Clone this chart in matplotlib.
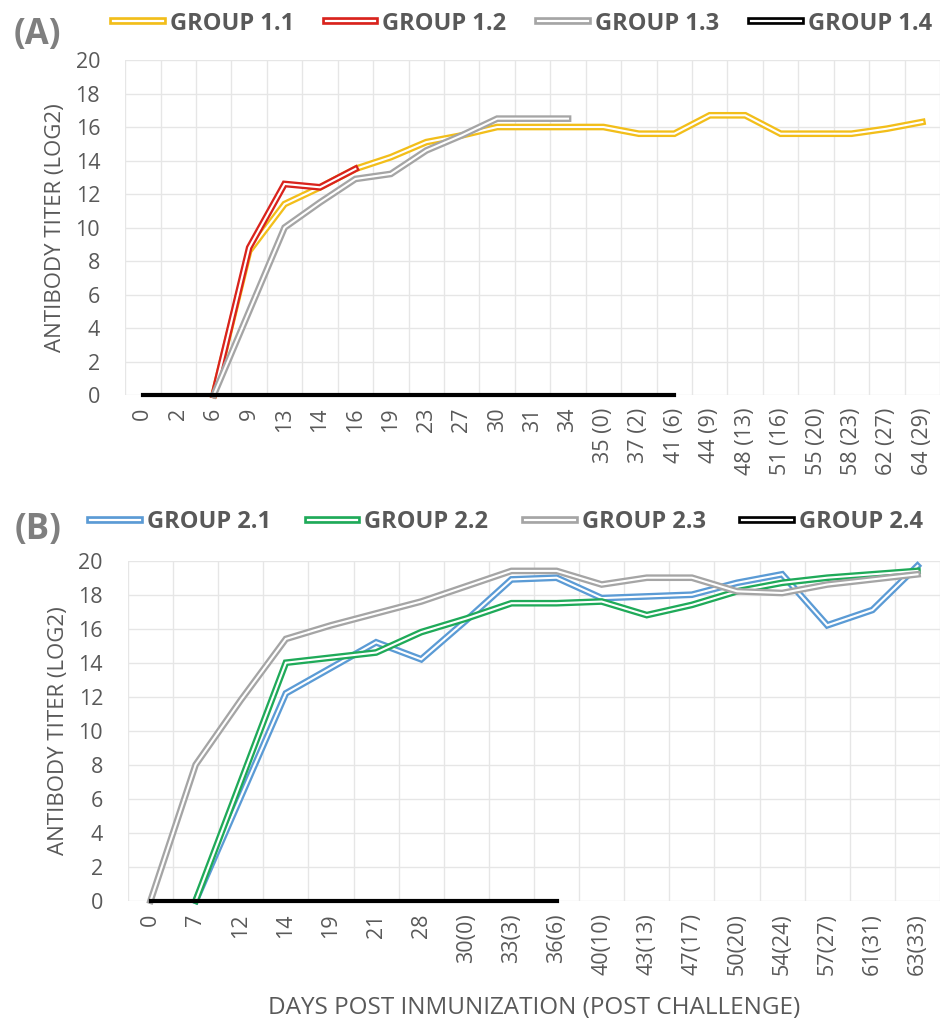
import numpy as np
import matplotlib
matplotlib.use("Agg")
import matplotlib.pyplot as plt
from matplotlib.lines import Line2D
from matplotlib.legend_handler import HandlerTuple

plt.rcParams['font.family'] = ['Open Sans', 'DejaVu Sans']

nan = np.nan

# panel A data
days_a = ['0', '2', '6', '9', '13', '14', '16', '19', '23', '27', '30', '31', '34',
          '35 (0)', '37 (2)', '41 (6)', '44 (9)', '48 (13)', '51 (16)', '55 (20)',
          '58 (23)', '62 (27)', '64 (29)']
g11 = [nan, nan, 0, 8.6, 11.4, 12.4, 13.5, 14.2, 15.1, 15.5, 16.0, 16.0, 16.0,
       16.0, 15.6, 15.6, 16.7, 16.7, 15.6, 15.6, 15.6, 15.9, 16.3]
g12 = [nan, nan, 0, 8.8, 12.6, 12.4, 13.5] + [nan] * 16
g13 = [nan, nan, 0, 5.0, 10.0, 11.5, 12.9, 13.2, 14.6, 15.5, 16.5, 16.5, 16.5] + [nan] * 10
g14 = [0] * 16 + [nan] * 7

# panel B data
days_b = ['0', '7', '12', '14', '19', '21', '28', '30(0)', '33(3)', '36(6)', '40(10)',
          '43(13)', '47(17)', '50(20)', '54(24)', '57(27)', '61(31)', '63(33)']
g21 = [nan, 0, 6.1, 12.2, 13.7, 15.2, 14.2, 16.5, 18.9, 19.0, 17.8, 17.9, 18.0,
       18.7, 19.2, 16.2, 17.1, 19.7]
g22 = [nan, 0, 7.0, 14.0, 14.3, 14.6, 15.8, 16.6, 17.5, 17.5, 17.6, 16.8, 17.4,
       18.2, 18.7, 19.0, 19.2, 19.4]
g23 = [0, 8.0, 11.8, 15.4, 16.2, 16.9, 17.6, 18.5, 19.4, 19.4, 18.6, 19.0, 19.0,
       18.2, 18.1, 18.6, 18.9, 19.2]
g24 = [0] * 10 + [nan] * 8

txt = '#595959'


def double_line(ax, y, color):
    x = np.arange(len(y))
    ax.plot(x, y, color=color, lw=4.8, solid_joinstyle='miter', clip_on=False)
    ax.plot(x, y, color='white', lw=1.5, solid_joinstyle='miter', clip_on=False)


def style(ax, labels):
    n = len(labels)
    ax.set_xlim(-0.5, n - 0.5)
    ax.set_ylim(0, 20)
    ax.set_yticks(range(0, 21, 2))
    ax.set_xticks(range(n))
    ax.set_xticklabels(labels, rotation=90, fontsize=15.5, color=txt)
    ax.set_xticks(np.arange(n + 1) - 0.5, minor=True)
    ax.tick_params(axis='both', which='both', length=0)
    ax.tick_params(axis='y', labelsize=15.5, labelcolor=txt, pad=18)
    ax.tick_params(axis='x', pad=9)
    ax.grid(axis='y', which='major', color='#E6E6E6', lw=1)
    ax.grid(axis='x', which='minor', color='#E6E6E6', lw=1)
    for s in ax.spines.values():
        s.set_visible(False)
    ax.set_ylabel('ANTIBODY TITER (LOG2)', fontsize=16, color=txt, labelpad=7)


def legend_handle(color):
    return (Line2D([], [], color=color, lw=5.5), Line2D([], [], color='white', lw=1.6))


def add_legend(cols, names, x, y, colsp):
    fig.legend([legend_handle(c) for c in cols], names,
               handler_map={tuple: HandlerTuple(ndivide=1)},
               loc='center left', bbox_to_anchor=(x, y), ncol=4, frameon=False,
               prop={'weight': 'bold', 'size': 17}, labelcolor=txt,
               borderpad=0, borderaxespad=0,
               handlelength=2.1, handletextpad=0.3, columnspacing=colsp)


fig = plt.figure(figsize=(9.41, 10.26), dpi=100)

# panel A
ax1 = fig.add_axes([0.133, 0.615, 0.866, 0.3265])
cols_a = ['#F2BE1A', '#D9231D', '#A5A5A5']
for y, c in zip([g11, g12, g13], cols_a):
    double_line(ax1, y, c)
ax1.plot(np.arange(len(g14)), g14, color='black', lw=3, clip_on=False)
style(ax1, days_a)
add_legend(cols_a + ['black'], ['GROUP 1.1', 'GROUP 1.2', 'GROUP 1.3', 'GROUP 1.4'],
           0.12, 0.977, 1.35)
fig.text(0.014, 0.966, '(A)', fontsize=25, fontweight='bold', color='#7F7F7F', va='center')

# panel B
ax2 = fig.add_axes([0.136, 0.1221, 0.863, 0.3314])
cols_b = ['#5B9BD5', '#1FAA59', '#A5A5A5']
for y, c in zip([g21, g22, g23], cols_b):
    double_line(ax2, y, c)
ax2.plot(np.arange(len(g24)), g24, color='black', lw=3, clip_on=False)
style(ax2, days_b)
ax2.set_xlabel('DAYS POST INMUNIZATION (POST CHALLENGE)', fontsize=17.5, color=txt, labelpad=15)
add_legend(cols_b + ['black'], ['GROUP 2.1', 'GROUP 2.2', 'GROUP 2.3', 'GROUP 2.4'],
           0.096, 0.491, 1.55)
fig.text(0.016, 0.483, '(B)', fontsize=25, fontweight='bold', color='#7F7F7F', va='center')

fig.savefig('out.png', dpi=100)
